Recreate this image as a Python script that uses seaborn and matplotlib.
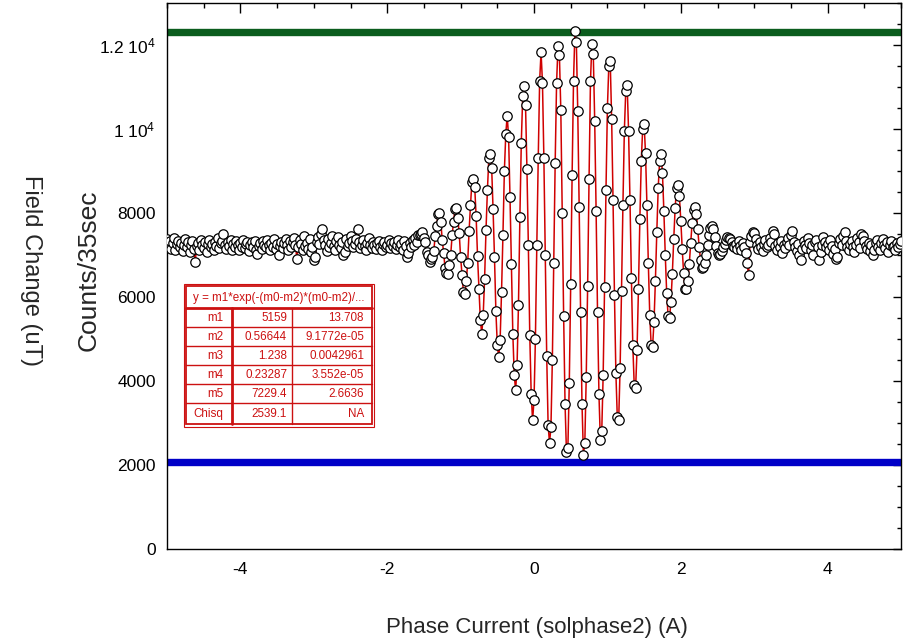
import numpy as np
import pandas as pd
import matplotlib
matplotlib.use("Agg")
import matplotlib.pyplot as plt
import seaborn as sns
from matplotlib.patches import Rectangle
from matplotlib.ticker import FixedLocator, MultipleLocator

# ---------------- data ----------------
counts_left = [
    7380, 7210, 7330, 7150, 7290, 7400, 7120, 7260, 7340, 7190,
    7280, 7100, 7230, 7370, 7180, 7300, 7060, 7250, 7330, 7140,
    6830, 7210, 7290, 7110, 7360, 7230, 7170, 7310, 7080, 7260,
    7350, 7190, 7270, 7130, 7320, 7220, 7400, 7160, 7280, 7340,
    7500, 7230, 7150, 7300, 7210, 7360, 7120, 7270, 7190, 7330,
    7240, 7110, 7290, 7200, 7350, 7160, 7260, 7310, 7090, 7230,
    7300, 7180, 7340, 7120, 7020, 7210, 7280, 7150, 7330, 7250,
    7190, 7360, 7230, 7110, 7290, 7200, 7380, 7140, 7260, 6990,
    7220, 7310, 7170, 7280, 7380, 7240, 7120, 7330, 7190, 7300,
    7410, 7240, 6910, 7180, 7350, 7260, 7130, 7450, 7220, 7290,
    7150, 7380, 7060, 7200, 6890, 6960, 7300, 7420, 7260, 7510,
    7630, 7350, 7240, 7100, 7380, 7190, 7290, 7460, 7210, 7130,
    7340, 7420, 7250, 7170, 7310, 6990, 7080, 7390, 7220, 7280,
    7450, 7330, 7190, 7270, 7380, 7610, 7300, 7160, 7240, 7350,
    7210, 7130, 7290, 7400, 7250, 7170, 7320, 7230, 7150, 7280,
    7340, 7200, 7120, 7260, 7310, 7190, 7230, 7350, 7170, 7280,
    7220, 7300, 7150, 7240, 7360, 7190, 7270, 7130, 7330, 7210,
    6950, 7050, 7280, 7180, 7350, 7240, 7400, 7310, 7470,
]
counts_mid = [
    7470, 7500, 7540, 7400, 7310, 7080, 6990, 6830, 6900, 6960,
    7100, 7450, 7690, 7980, 8010, 7780, 7350, 7050, 6680, 6560,
    6540, 6760, 7010, 7470, 7790, 8100, 8130, 7870, 7530, 6950,
    6520, 6120, 6080, 6370, 6800, 7560, 8180, 8740, 8820, 8620,
    7920, 6970, 6190, 5450, 5130, 5560, 6430, 7600, 8550, 9300,
    9410, 9080, 8090, 6950, 5660, 4860, 4560, 4980, 6120, 7480,
    8990, 9870, 10320, 9810, 8380, 6780, 5130, 4140, 3780, 4370,
    5820, 7900, 9670, 10780, 11020, 10560, 9050, 7230, 5100, 3700,
    3060, 3540, 5000, 7250, 9300, 11150, 11830, 11100, 9300, 7000,
    4600, 2950, 2520, 2900, 4500, 6800, 9200, 11100, 11970, 11750,
    10450, 8000, 5550, 3450, 2310, 2400, 3950, 6300, 8900, 11150,
    12330, 12070, 10430, 8140, 5650, 3460, 2250, 2520, 4090, 6260,
    8810, 11140, 12030, 11780, 10200, 8050, 5650, 3700, 2590, 2800,
    4150, 6250, 8550, 10500, 11500, 11610, 10250, 8300, 6050, 4200,
    3150, 3080, 4300, 6150, 8200, 9950, 10900, 11040, 9950, 8300,
    6450, 4850, 3900, 3840, 4750, 6200, 7850, 9250, 10000, 10130,
    9420, 8200, 6800, 5580, 4850, 4820, 5400, 6380, 7550, 8600,
    9250, 9400, 8950, 8050, 7000, 6100, 5550, 5500, 5880, 6550,
    7380, 8120, 8600, 8670, 8400, 7820, 7150, 6560, 6200, 6180,
    6380, 6780, 7280, 7760, 8080, 8140, 7980, 7620, 7200, 6870,
    6700, 6710, 6820, 7010, 7250, 7480, 7650, 7700, 7620, 7430,
    7210, 7050, 6990, 7020, 7100, 7180, 7260, 7350, 7420, 7410,
    7380, 7300, 7220, 7180,
]
counts_right = [
    7260, 7150, 7330, 7220, 7110, 7280, 7190, 7050, 6800, 6520,
    7300, 7460, 7550, 7520, 7380, 7250, 7140, 7310, 7200, 7090,
    7270, 7350, 7180, 7230, 7400, 7300, 7560, 7490, 7210, 7120,
    7280, 7190, 7340, 7050, 7250, 7160, 7300, 7410, 7230, 7470,
    7560, 7320, 7200, 7090, 7260, 7000, 6870, 7150, 7330, 7240,
    7170, 7400, 7280, 7120, 7230, 7010, 7310, 7360, 7190, 6870,
    7060, 7250, 7420, 7300, 7180, 7270, 7130, 7350, 7220, 7020,
    7150, 6900, 6950, 7290, 7380, 7240, 7460, 7550, 7330, 7200,
    7110, 7270, 7340, 7180, 7060, 7250, 7410, 7300, 7170, 7510,
    7460, 7330, 7220, 7150, 7290, 7100, 7240, 7010, 7130, 7280,
    7360, 7200, 7110, 7290, 7390, 7230, 7160, 7310, 7080, 7250,
    7340, 7180, 7220, 7120, 7280, 7200, 7260, 7330,
]
counts = counts_left + counts_mid + counts_right
phase_current = np.linspace(-5.0, 5.0, len(counts))   # regular scan grid

upper_level = 12300
lower_level = 2060

fit_title = "y = m1*exp(-(m0-m2)*(m0-m2)/..."
fit_names = ["m1", "m2", "m3", "m4", "m5", "Chisq"]
fit_values = ["5159", "0.56644", "1.238", "0.23287", "7229.4", "2539.1"]
fit_errors = ["13.708", "9.1772e-05", "0.0042961", "3.552e-05", "2.6636", "NA"]

y_ticks = [0, 2000, 4000, 6000, 8000, 10000, 12000]
y_tick_labels = ["0", "2000", "4000", "6000", "8000", r"1 10$^{4}$", r"1.2 10$^{4}$"]
x_ticks = [-4, -2, 0, 2, 4]
x_tick_labels = ["-4", "-2", "0", "2", "4"]

x_label = "Phase Current (solphase2) (A)"
y_label = "Counts/35sec"
y_label2 = "Field Change (uT)"

# ---------------- style ----------------
sns.set_theme(style="white")
plt.rcParams["font.family"] = ["Liberation Sans", "DejaVu Sans"]
plt.rcParams["mathtext.fontset"] = "custom"
plt.rcParams["mathtext.rm"] = "Liberation Sans"
plt.rcParams["mathtext.it"] = "Liberation Sans"

W, H = 911, 643
fig = plt.figure(figsize=(W / 100, H / 100), dpi=100)
fig.patch.set_facecolor("white")
ax = fig.add_axes([167 / W, 1 - 549 / H, (901 - 167) / W, (549 - 3) / H])
ax.set_facecolor("white")

df = pd.DataFrame({"phase": phase_current, "counts": counts})

ax.axhline(upper_level, color="#0b5d1e", lw=5.3, zorder=1)
ax.axhline(lower_level, color="#0000c8", lw=5.3, zorder=1)

sns.lineplot(data=df, x="phase", y="counts", ax=ax, color="#d00000",
             lw=1.1, estimator=None, zorder=2)
sns.scatterplot(data=df, x="phase", y="counts", ax=ax, s=46, color="white",
                edgecolor="black", linewidth=0.9, zorder=3)

ax.set_xlim(-5, 5)
ax.set_ylim(0, 13000)
ax.set_xlabel("")
ax.set_ylabel("")

for sp in ax.spines.values():
    sp.set_visible(True)
    sp.set_color("black")
    sp.set_linewidth(1.0)

ax.xaxis.set_major_locator(FixedLocator(x_ticks))
ax.set_xticklabels(x_tick_labels)
ax.xaxis.set_minor_locator(MultipleLocator(0.5))
ax.yaxis.set_major_locator(FixedLocator(y_ticks))
ax.set_yticklabels(y_tick_labels)
ax.yaxis.set_minor_locator(MultipleLocator(500))

ax.tick_params(which="both", direction="in", top=True, right=True,
               colors="black", labelsize=12.5)
ax.tick_params(axis="x", which="major", length=7, width=1, pad=9)
ax.tick_params(axis="x", which="minor", length=3.6, width=1)
ax.tick_params(axis="y", which="major", length=5.5, width=1, pad=8)
ax.tick_params(axis="y", which="minor", length=2.7, width=1)

fig.text(537 / W, 1 - 627 / H, x_label, ha="center", va="center", fontsize=16)
fig.text(89 / W, 1 - 270 / H, y_label, ha="center", va="center",
         rotation=90, fontsize=19)
fig.text(31 / W, 1 - 270 / H, y_label2, ha="center", va="center",
         rotation=270, fontsize=17)

# ---------------- fit-parameter table ----------------
tax = fig.add_axes([0, 0, 1, 1], zorder=5)
tax.set_xlim(0, W)
tax.set_ylim(H, 0)
tax.axis("off")
tax.patch.set_alpha(0)

red = "#cc1111"
tax.add_patch(Rectangle((183.5, 283.5), 190.5, 143, fill=True, facecolor="white",
                        edgecolor=red, lw=0.8))
tax.add_patch(Rectangle((186, 286), 185.5, 138, fill=False, edgecolor=red, lw=1.3))
tax.plot([186, 371.5], [308, 308], color=red, lw=2.0)
row_edges = [308, 327, 346, 365, 384, 403, 424]
for yy in row_edges[1:-1]:
    tax.plot([186, 371.5], [yy, yy], color=red, lw=1.0)
tax.plot([231.7, 231.7], [308, 424], color=red, lw=2.0)
tax.plot([292.3, 292.3], [308, 424], color=red, lw=1.0)

tax.text(278.75, 297.5, fit_title, ha="center", va="center", fontsize=8.4, color=red)
for j, (nm, val, err) in enumerate(zip(fit_names, fit_values, fit_errors)):
    yc = (row_edges[j] + row_edges[j + 1]) / 2 + 0.5
    tax.text(223, yc, nm, ha="right", va="center", fontsize=8.4, color=red)
    tax.text(287, yc, val, ha="right", va="center", fontsize=8.4, color=red)
    tax.text(364, yc, err, ha="right", va="center", fontsize=8.4, color=red)

fig.savefig("out.png", dpi=100)
